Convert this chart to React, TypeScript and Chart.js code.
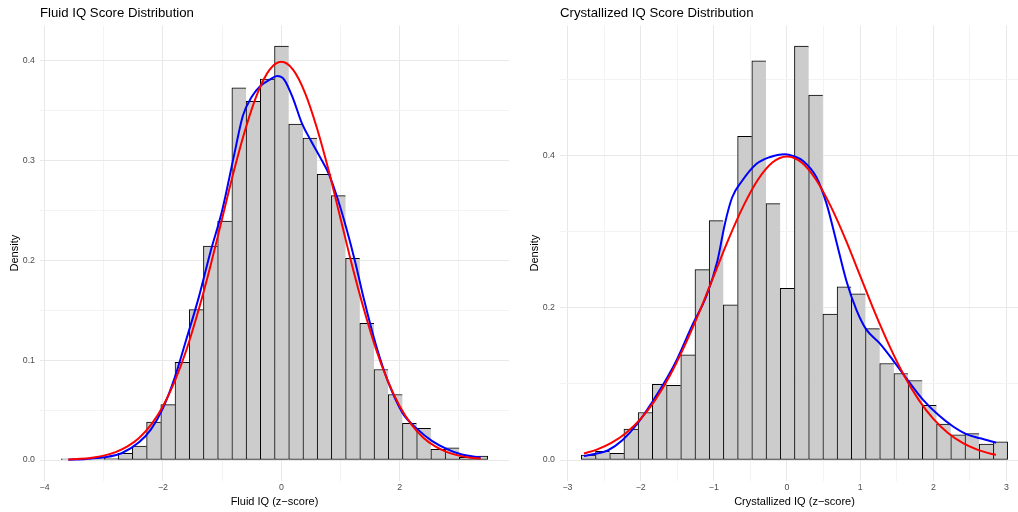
import React, { useEffect, useRef } from "react";
import { Chart, registerables } from "chart.js";

Chart.register(...registerables);

const FONT = '"Liberation Sans", Arial, Helvetica, sans-serif';

// ---------- Fluid IQ panel data ----------
const fluidBinCenters = [
  -3.598, -3.3578, -3.1176, -2.8774, -2.6372, -2.397, -2.1568, -1.9166, -1.6764, -1.4362,
  -1.196, -0.9558, -0.7156, -0.4754, -0.2352, 0.005, 0.2452, 0.4854, 0.7256, 0.9658,
  1.206, 1.4462, 1.6864, 1.9266, 2.1668, 2.407, 2.6472, 2.8874, 3.1276, 3.3678,
];
const fluidDensity = [
  0.0013, 0, 0.0013, 0.0017, 0.0067, 0.014, 0.038, 0.0555, 0.098, 0.1507,
  0.2144, 0.2395, 0.373, 0.3595, 0.3816, 0.4147, 0.3365, 0.3227, 0.2863, 0.2649,
  0.202, 0.137, 0.0907, 0.0657, 0.0367, 0.0317, 0.0107, 0.0123, 0.0027, 0.004,
];
const fluidKdeX = [
  -3.598, -3.3, -3.0, -2.7, -2.4, -2.2, -2.0, -1.8, -1.6, -1.4, -1.2, -1.0, -0.8, -0.65,
  -0.5, -0.35, -0.2, -0.07, 0.05, 0.2, 0.35, 0.5, 0.65, 0.8, 0.95, 1.1, 1.25, 1.4, 1.6,
  1.8, 2.05, 2.3, 2.55, 2.8, 3.05, 3.368,
];
const fluidKdeY = [
  0.0004, 0.0011, 0.0027, 0.0068, 0.018, 0.031, 0.052, 0.083, 0.122, 0.162, 0.208, 0.25,
  0.305, 0.345, 0.364, 0.375, 0.381, 0.3847, 0.381, 0.362, 0.337, 0.32, 0.304, 0.287,
  0.262, 0.232, 0.198, 0.16, 0.115, 0.079, 0.047, 0.031, 0.019, 0.011, 0.0055, 0.0025,
];
const fluidNormX = [
  -3.598, -3.4, -3.2, -3.0, -2.8, -2.6, -2.4, -2.2, -2.0, -1.8, -1.6, -1.4, -1.2, -1.0,
  -0.8, -0.6, -0.4, -0.2, 0, 0.2, 0.4, 0.6, 0.8, 1.0, 1.2, 1.4, 1.6, 1.8, 2.0, 2.2, 2.4,
  2.6, 2.8, 3.0, 3.2, 3.368,
];
const fluidNormY = [
  0.0006, 0.0012, 0.0024, 0.0044, 0.0079, 0.0136, 0.0224, 0.0355, 0.054, 0.079, 0.111,
  0.15, 0.194, 0.242, 0.29, 0.333, 0.368, 0.391, 0.399, 0.391, 0.368, 0.333, 0.29, 0.242,
  0.194, 0.15, 0.111, 0.079, 0.054, 0.0355, 0.0224, 0.0136, 0.0079, 0.0044, 0.0024, 0.0014,
];

// ---------- Crystallized IQ panel data ----------
const crystalBinCenters = [
  -2.714, -2.5198, -2.3256, -2.1314, -1.9372, -1.743, -1.5488, -1.3546, -1.1604, -0.9662,
  -0.772, -0.5778, -0.3836, -0.1894, 0.0048, 0.199, 0.3932, 0.5874, 0.7816, 0.9758,
  1.17, 1.3642, 1.5584, 1.7526, 1.9468, 2.141, 2.3352, 2.5294, 2.7236, 2.9178,
];
const crystalDensity = [
  0.0066, 0.0114, 0.0087, 0.0406, 0.0624, 0.0996, 0.0983, 0.1384, 0.2502, 0.3147,
  0.2039, 0.4254, 0.5247, 0.337, 0.2258, 0.5439, 0.4796, 0.1917, 0.2275, 0.2183,
  0.1727, 0.1268, 0.1137, 0.1045, 0.072, 0.0472, 0.0332, 0.0347, 0.0208, 0.0238,
];
const crystalKdeX = [
  -2.775, -2.6, -2.45, -2.25, -2.05, -1.85, -1.65, -1.5, -1.3, -1.1, -0.95, -0.85, -0.75,
  -0.62, -0.42, -0.24, -0.03, 0.1, 0.22, 0.4, 0.54, 0.67, 0.81, 0.95, 1.08, 1.27, 1.45,
  1.65, 1.86, 2.07, 2.27, 2.45, 2.64, 2.857,
];
const crystalKdeY = [
  0.0052, 0.0085, 0.0125, 0.026, 0.047, 0.075, 0.106, 0.133, 0.176, 0.216, 0.262, 0.31,
  0.345, 0.366, 0.389, 0.398, 0.402, 0.399, 0.393, 0.372, 0.337, 0.289, 0.236, 0.197,
  0.172, 0.153, 0.131, 0.105, 0.079, 0.059, 0.044, 0.034, 0.0285, 0.0227,
];
const crystalNormX = [
  -2.775, -2.6, -2.4, -2.2, -2.0, -1.8, -1.6, -1.4, -1.2, -1.0, -0.8, -0.6, -0.4, -0.2, 0,
  0.2, 0.4, 0.6, 0.8, 1.0, 1.2, 1.4, 1.6, 1.8, 2.0, 2.2, 2.4, 2.6, 2.8, 2.856,
];
const crystalNormY = [
  0.0085, 0.0136, 0.0224, 0.0355, 0.054, 0.079, 0.111, 0.15, 0.194, 0.242, 0.29, 0.333,
  0.368, 0.391, 0.399, 0.391, 0.368, 0.333, 0.29, 0.242, 0.194, 0.15, 0.111, 0.079, 0.054,
  0.0355, 0.0224, 0.0136, 0.0079, 0.0068,
];

const FLUID_TITLE = "Fluid IQ Score Distribution";
const FLUID_XTITLE = "Fluid IQ (z\u2212score)";
const CRYSTAL_TITLE = "Crystallized IQ Score Distribution";
const CRYSTAL_XTITLE = "Crystallized IQ (z\u2212score)";

type PanelProps = {
  title: string;
  xTitle: string;
  centers: number[];
  density: number[];
  kdeX: number[];
  kdeY: number[];
  normX: number[];
  normY: number[];
  pageLeft: number;
  canvasWidth: number;
  yAxisWidth: number;
  padRight: number;
  xMin: number;
  xMax: number;
  xStep: number;
  xMajor: number;
  yMin: number;
  yMax: number;
  yStep: number;
  yMajor: number;
};

const isMult = (v: number, m: number) => Math.abs(v / m - Math.round(v / m)) < 1e-6;
const fmtX = (v: number) => (v < 0 ? "\u2212" + Math.abs(v) : String(v));

const textPlugin = {
  id: "panelTexts",
  afterDraw(chart: any, _args: any, opts: any) {
    const { ctx, chartArea } = chart;
    ctx.save();
    ctx.fillStyle = "#000000";
    ctx.textBaseline = "alphabetic";
    ctx.font = `13.2px ${FONT}`;
    ctx.textAlign = "left";
    ctx.fillText(opts.title, chartArea.left, 17.3);
    ctx.font = `11px ${FONT}`;
    ctx.textAlign = "center";
    ctx.fillText(opts.xTitle, (chartArea.left + chartArea.right) / 2, 504.5);
    ctx.translate(chartArea.left - 22, (chartArea.top + chartArea.bottom) / 2);
    ctx.rotate(-Math.PI / 2);
    ctx.fillText("Density", 0, 0);
    ctx.restore();
  },
};

function Panel(p: PanelProps) {
  const ref = useRef<HTMLCanvasElement>(null);
  useEffect(() => {
    const last = p.centers.length - 1;
    const chart = new Chart(ref.current as HTMLCanvasElement, {
      type: "bar",
      data: {
        datasets: [
          {
            type: "line",
            label: "normal",
            data: p.normX.map((x, i) => ({ x, y: p.normY[i] })),
            borderColor: "#ff0000",
            borderWidth: 2,
            pointRadius: 0,
            cubicInterpolationMode: "monotone",
            fill: false,
            order: 1,
          } as any,
          {
            type: "line",
            label: "kde",
            data: p.kdeX.map((x, i) => ({ x, y: p.kdeY[i] })),
            borderColor: "#0000ff",
            borderWidth: 2,
            pointRadius: 0,
            cubicInterpolationMode: "monotone",
            fill: false,
            order: 2,
          } as any,
          {
            type: "bar",
            label: "hist",
            data: p.centers.map((x, i) => ({ x, y: p.density[i] })),
            backgroundColor: "#cccccc",
            borderColor: "#000000",
            borderSkipped: false,
            borderWidth: (c: any) =>
              c.dataIndex === last
                ? { top: 1, left: 1, right: 1, bottom: 1 }
                : { top: 1, left: 1, right: 0, bottom: 1 },
            barPercentage: 1,
            categoryPercentage: 1,
            order: 3,
          } as any,
        ],
      },
      options: {
        animation: false,
        responsive: false,
        devicePixelRatio: 1,
        events: [],
        layout: { padding: { top: 25.5, left: 0, right: p.padRight, bottom: 0 } },
        plugins: {
          legend: { display: false },
          tooltip: { enabled: false },
          title: { display: false },
          panelTexts: { title: p.title, xTitle: p.xTitle },
        } as any,
        scales: {
          x: {
            type: "linear",
            offset: false,
            min: p.xMin,
            max: p.xMax,
            border: { display: false },
            grid: {
              offset: false,
              drawTicks: false,
              lineWidth: 1,
              color: (c: any) => (c.tick && isMult(c.tick.value, p.xMajor) ? "#e8e8e8" : "#f3f3f3"),
            },
            ticks: {
              stepSize: p.xStep,
              includeBounds: false,
              autoSkip: false,
              maxRotation: 0,
              padding: 2,
              color: "#4d4d4d",
              font: { family: FONT, size: 8.8 },
              callback: (v: any) => (isMult(Number(v), p.xMajor) ? fmtX(Math.round(Number(v))) : ""),
            },
            afterFit: (s: any) => {
              s.height = 31.3;
              s.paddingLeft = 0;
              s.paddingRight = 0;
            },
          },
          y: {
            type: "linear",
            min: p.yMin,
            max: p.yMax,
            border: { display: false },
            grid: {
              drawTicks: false,
              lineWidth: 1,
              color: (c: any) => (c.tick && isMult(c.tick.value, p.yMajor) ? "#e8e8e8" : "#f3f3f3"),
            },
            ticks: {
              stepSize: p.yStep,
              includeBounds: false,
              autoSkip: false,
              padding: 5,
              color: "#4d4d4d",
              font: { family: FONT, size: 8.8 },
              callback: (v: any) => (isMult(Number(v), p.yMajor) ? Number(v).toFixed(1) : ""),
            },
            afterFit: (s: any) => {
              s.width = p.yAxisWidth;
              s.paddingTop = 0;
              s.paddingBottom = 0;
            },
          },
        },
      } as any,
      plugins: [textPlugin as any],
    });
    return () => chart.destroy();
  }, []);
  return (
    <canvas
      ref={ref}
      width={p.canvasWidth}
      height={512}
      style={{ position: "absolute", left: p.pageLeft, top: 0, width: p.canvasWidth, height: 512 }}
    />
  );
}

export default function App() {
  return (
    <div
      style={{
        position: "fixed",
        left: 0,
        top: 0,
        width: 1018,
        height: 512,
        overflow: "hidden",
        background: "#ffffff",
      }}
    >
      <Panel
        title={FLUID_TITLE}
        xTitle={FLUID_XTITLE}
        centers={fluidBinCenters}
        density={fluidDensity}
        kdeX={fluidKdeX}
        kdeY={fluidKdeY}
        normX={fluidNormX}
        normY={fluidNormY}
        pageLeft={0}
        canvasWidth={512}
        yAxisWidth={40}
        padRight={3}
        xMin={-4.078}
        xMax={3.847}
        xStep={1}
        xMajor={2}
        yMin={-0.0207}
        yMax={0.4354}
        yStep={0.05}
        yMajor={0.1}
      />
      <Panel
        title={CRYSTAL_TITLE}
        xTitle={CRYSTAL_XTITLE}
        centers={crystalBinCenters}
        density={crystalDensity}
        kdeX={crystalKdeX}
        kdeY={crystalKdeY}
        normX={crystalNormX}
        normY={crystalNormY}
        pageLeft={512}
        canvasWidth={530}
        yAxisWidth={48}
        padRight={13}
        xMin={-3.102}
        xMax={3.307}
        xStep={0.5}
        xMajor={1}
        yMin={-0.0272}
        yMax={0.5711}
        yStep={0.1}
        yMajor={0.2}
      />
    </div>
  );
}
